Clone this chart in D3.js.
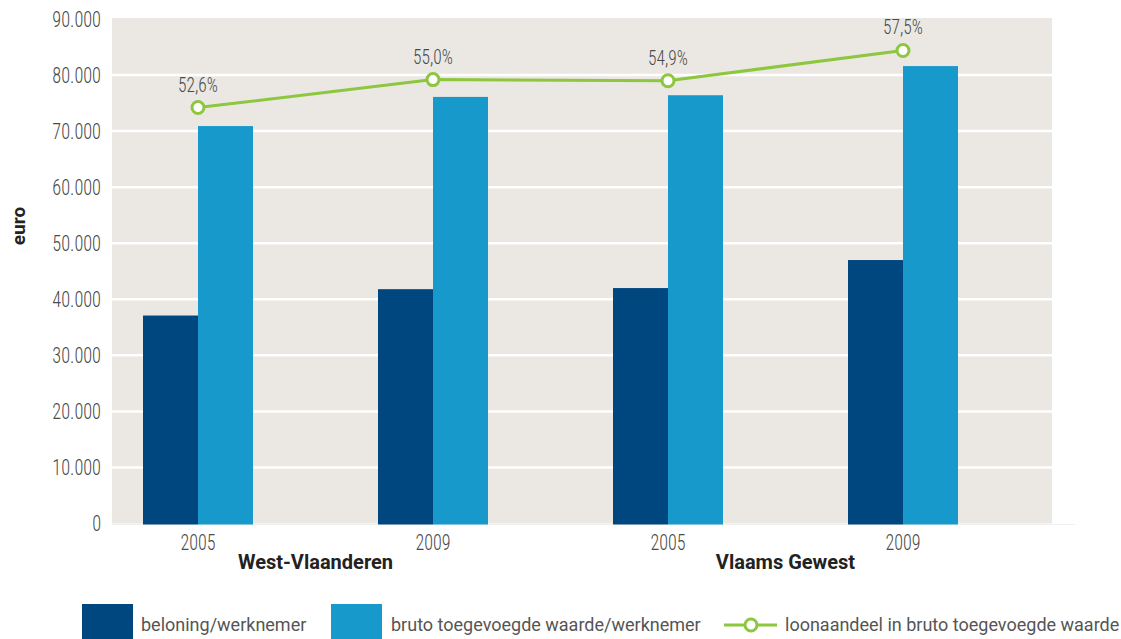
<!DOCTYPE html>
<html><head><meta charset="utf-8">
<script src="https://cdn.jsdelivr.net/npm/d3@7/dist/d3.min.js"></script>
<style>
html,body{margin:0;padding:0;background:#fff;}
svg{display:block;}
.num{font-family:Roboto,sans-serif;font-stretch:condensed;font-weight:300;fill:#4a4a4a;}
.bold{font-family:Roboto,sans-serif;font-weight:700;fill:#222;}
.leg{font-family:Roboto,sans-serif;font-weight:400;fill:#555;}
</style></head>
<body>
<script>
const regions = ["West-Vlaanderen", "Vlaams Gewest"];
const years = ["2005", "2009"];
const categories = ["West-Vlaanderen 2005", "West-Vlaanderen 2009", "Vlaams Gewest 2005", "Vlaams Gewest 2009"];
const beloning = [37100, 41800, 42000, 47000];
const brutoToegevoegd = [70900, 76100, 76400, 81600];
const loonaandeel = [52.6, 55.0, 54.9, 57.5];
const loonaandeelLabels = ["52,6%", "55,0%", "54,9%", "57,5%"];
const yTicks = [0, 10000, 20000, 30000, 40000, 50000, 60000, 70000, 80000, 90000];
const yTickLabels = ["0", "10.000", "20.000", "30.000", "40.000", "50.000", "60.000", "70.000", "80.000", "90.000"];
const seriesNames = ["beloning/werknemer", "bruto toegevoegde waarde/werknemer", "loonaandeel in bruto toegevoegde waarde"];

const W = 1121, H = 639;
const colDark = "#00467f", colLight = "#1799cb", colGreen = "#8dc63f", bg = "#ebe8e3";
const plotL = 112, plotR = 1052, plotT = 19, plotB = 523.5;

// horizontally condense a text selection around its own anchor x
function squeeze(sel, s) {
  sel.each(function () {
    const t = d3.select(this);
    const x0 = +(t.attr("x") || 0);
    t.attr("x", x0 / s).attr("transform", `scale(${s},1)`);
  });
}

const svg = d3.select("body").append("svg").attr("width", W).attr("height", H);

const y = d3.scaleLinear().domain([0, 90000]).range([plotB, plotT]);
const y2 = d3.scaleLinear().domain([16.9, 60.2]).range([plotB, plotT]);
const x = d3.scaleBand().domain(categories).range([80.5, 1020.5]);
const xs = d3.scaleBand().domain(["b", "t"]).range([-55, 55]);
const cx = c => x(c) + x.bandwidth() / 2;

// background
svg.append("rect").attr("x", plotL).attr("y", plotT - 1).attr("width", plotR - plotL).attr("height", plotB - plotT + 1).attr("fill", bg);
svg.append("line").attr("x1", plotL).attr("x2", 1075).attr("y1", plotB + 1).attr("y2", plotB + 1).attr("stroke", "#f2f0ee").attr("stroke-width", 1);

// grid
svg.append("g").selectAll("line").data(yTicks.slice(1, -1)).join("line")
  .attr("x1", plotL).attr("x2", plotR)
  .attr("y1", d => y(d)).attr("y2", d => y(d))
  .attr("stroke", "#fff").attr("stroke-width", 2.5);

// y axis
const yAxis = d3.axisLeft(y).tickValues(yTicks).tickFormat((d, i) => yTickLabels[i]).tickSize(0).tickPadding(11);
const gy = svg.append("g").attr("transform", `translate(${plotL},0)`).call(yAxis);
gy.select(".domain").remove();
gy.attr("font-family", null).attr("font-size", null);
gy.selectAll("text").attr("class", "num").attr("font-size", 22).attr("fill", null).call(squeeze, 0.83);

// bars
const gb = svg.append("g");
gb.selectAll("rect.b").data(categories).join("rect").attr("class", "b")
  .attr("x", c => cx(c) + xs("b")).attr("width", xs.bandwidth())
  .attr("y", (c, i) => y(beloning[i])).attr("height", (c, i) => plotB + 1 - y(beloning[i]))
  .attr("fill", colDark);
gb.selectAll("rect.t").data(categories).join("rect").attr("class", "t")
  .attr("x", c => cx(c) + xs("t")).attr("width", xs.bandwidth())
  .attr("y", (c, i) => y(brutoToegevoegd[i])).attr("height", (c, i) => plotB + 1 - y(brutoToegevoegd[i]))
  .attr("fill", colLight);

// line
const line = d3.line().x(d => cx(d.c)).y(d => y2(d.v));
const pts = categories.map((c, i) => ({c, v: loonaandeel[i], l: loonaandeelLabels[i]}));
svg.append("path").datum(pts).attr("d", line).attr("fill", "none").attr("stroke", colGreen).attr("stroke-width", 3);
svg.append("g").selectAll("circle").data(pts).join("circle")
  .attr("cx", d => cx(d.c)).attr("cy", d => y2(d.v)).attr("r", 6)
  .attr("fill", "#fff").attr("stroke", colGreen).attr("stroke-width", 3);
svg.append("g").selectAll("g").data(pts).join("g")
  .attr("transform", d => `translate(${cx(d.c)},${y2(d.v) - 16})`)
  .append("text").attr("class", "num")
  .attr("text-anchor", "middle").attr("font-size", 20).text(d => d.l)
  .call(squeeze, 0.87);

// x axis labels
const xAxis = d3.axisBottom(x).tickFormat((c, i) => years[i % 2]).tickSize(0).tickPadding(10);
const gx = svg.append("g").attr("transform", `translate(0,${plotB})`).call(xAxis);
gx.select(".domain").remove();
gx.attr("font-family", null).attr("font-size", null);
gx.selectAll("text").attr("class", "num").attr("font-size", 22).attr("fill", null).attr("y", 10.5).call(squeeze, 0.82);

svg.append("g").selectAll("text").data(regions).join("text").attr("class", "bold")
  .attr("x", (r, i) => (cx(categories[2 * i]) + cx(categories[2 * i + 1])) / 2)
  .attr("y", 569).attr("text-anchor", "middle").attr("font-size", 20).text(d => d);

// y title
svg.append("text").attr("class", "bold").attr("transform", "translate(25,226) rotate(-90)")
  .attr("text-anchor", "middle").attr("font-size", 19).text("euro");

// legend
const lg = svg.append("g");
const legX = [82, 331, 724];
lg.append("rect").attr("x", legX[0]).attr("y", 604).attr("width", 51).attr("height", 35).attr("fill", colDark);
lg.append("rect").attr("x", legX[1]).attr("y", 604).attr("width", 51).attr("height", 35).attr("fill", colLight);
lg.append("line").attr("x1", legX[2]).attr("x2", legX[2] + 53).attr("y1", 625).attr("y2", 625).attr("stroke", colGreen).attr("stroke-width", 3);
lg.append("circle").attr("cx", legX[2] + 27).attr("cy", 625).attr("r", 6).attr("fill", "#fff").attr("stroke", colGreen).attr("stroke-width", 3);
const legTextX = [141, 391, 785];
lg.selectAll("text").data(seriesNames).join("text").attr("class", "leg")
  .attr("x", (d, i) => legTextX[i]).attr("y", 631).attr("font-size", 18).text(d => d);
</script>
</body></html>
